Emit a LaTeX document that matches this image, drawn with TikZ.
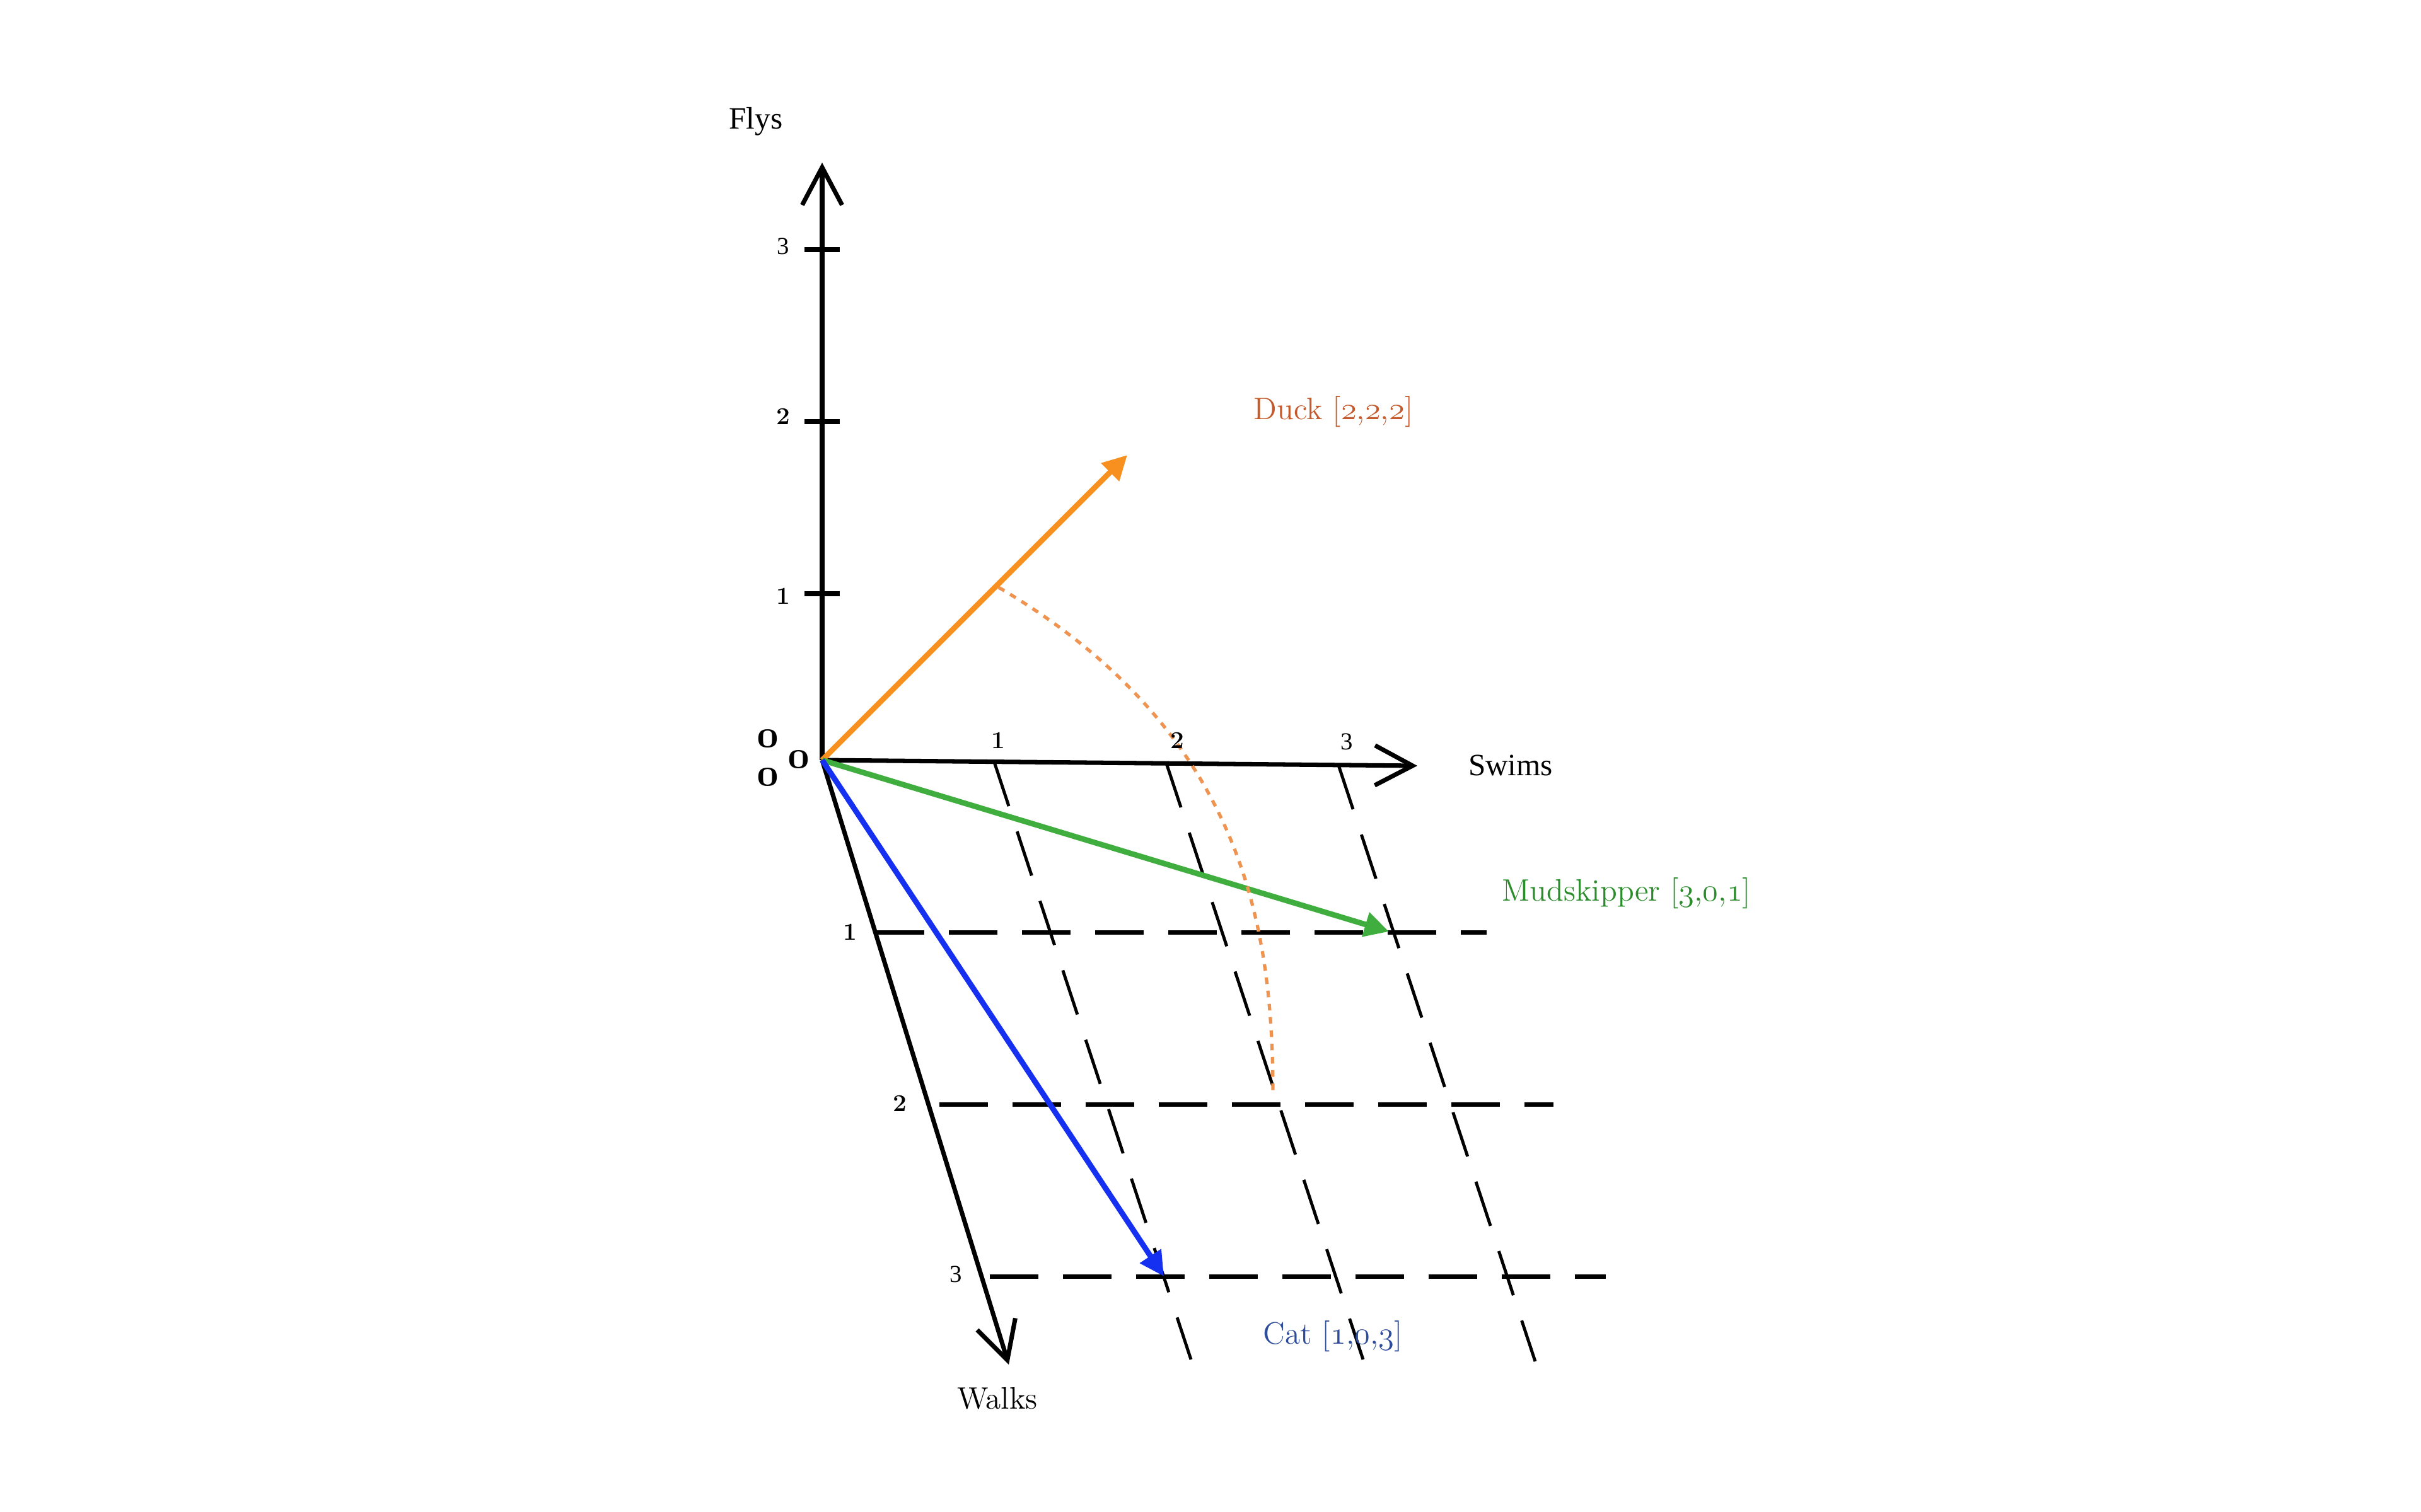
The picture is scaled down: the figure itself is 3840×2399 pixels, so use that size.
\documentclass[tikz,border=0pt]{standalone}
\usepackage{fontspec}
\newfontfamily\tms{Liberation Serif}
\usetikzlibrary{arrows.meta}
\newcommand{\osn}[1]{{\fontencoding{OML}\fontfamily{cmm}\fontseries{m}\fontshape{it}\selectfont #1}}
\newcommand{\osnb}[1]{{\fontencoding{OML}\fontfamily{cmm}\fontseries{b}\fontshape{it}\selectfont #1}}
\definecolor{duckorange}{HTML}{F7901E}
\definecolor{ducklabel}{HTML}{C45A2C}
\definecolor{arcorange}{HTML}{EF9450}
\definecolor{mudgreen}{HTML}{3FAE3F}
\definecolor{mudlabel}{HTML}{2A8C2A}
\definecolor{catblue}{HTML}{1530F0}
\definecolor{catlabel}{HTML}{2D4C9C}
\tikzset{
  axisline/.style={line width=2pt,-{Straight Barb[length=17pt,width=18pt]}},
  tickmark/.style={line width=2pt},
  hgrid/.style={line width=2pt,dash pattern=on 22pt off 11pt},
  sgrid/.style={line width=1.4pt,dash pattern=on 21pt off 12pt},
  vec/.style={line width=2.5pt,-{Triangle[length=11pt,width=11pt]}},
  arcline/.style={arcorange,line width=1.5pt,dash pattern=on 3pt off 3pt},
  lab/.style={inner sep=0pt,font=\fontsize{14}{17}\selectfont},
  axlab/.style={inner sep=0pt,font=\tms\fontsize{14}{17}\selectfont},
  ticklab/.style={inner sep=0pt,font=\tms\fontsize{11}{13}\selectfont},
  tickbold/.style={inner sep=0pt,font=\fontsize{11}{13}\selectfont\bfseries},
  zerolab/.style={inner sep=0pt,font=\fontsize{18}{21}\selectfont}
}
\begin{document}
\begin{tikzpicture}[x=0.1mm,y=-0.1mm]
\useasboundingbox (0,0) rectangle (3840,2399);
% key points
\coordinate (O) at (1304,1206);
\coordinate (Ftip) at (1304,258);
\coordinate (Stip) at (2248,1215);
\coordinate (Wtip) at (1600,2165);
% swims ticks and slanted grid ends
\coordinate (S1) at (1577,1209);
\coordinate (S2) at (1850,1211);
\coordinate (S3) at (2123,1214);
\coordinate (S1e) at (1889,2157);
\coordinate (S2e) at (2162,2157);
\coordinate (S3e) at (2435,2160);
% walks ticks and horizontal grid ends
\coordinate (W1) at (1389,1479);
\coordinate (W2) at (1490,1752);
\coordinate (W3) at (1570,2025);
\coordinate (W1e) at (2358,1479);
\coordinate (W2e) at (2464,1752);
\coordinate (W3e) at (2547,2025);
% vector tips
\coordinate (Duck) at (1788,722);
\coordinate (Mud) at (2203,1478);
\coordinate (Cat) at (1846,2025);
% arc end points
\coordinate (A0) at (1584,932);
\coordinate (A1) at (2019,1736);

% grid
\draw[sgrid] (S1) -- (S1e);
\draw[sgrid] (S2) -- (S2e);
\draw[sgrid] (S3) -- (S3e);
\draw[hgrid] (W1) -- (W1e);
\draw[hgrid] (W2) -- (W2e);
\draw[hgrid] (W3) -- (W3e);

% axes
\draw[axisline] (O) -- (Ftip);
\draw[axisline] (O) -- (Stip);
\draw[axisline] (O) -- (Wtip);
\draw[tickmark] (1276,396) -- (1332,396);
\draw[tickmark] (1276,669) -- (1332,669);
\draw[tickmark] (1276,942) -- (1332,942);

% vectors
\draw[vec,duckorange] (O) -- (Duck);
\draw[vec,mudgreen] (O) -- (Mud);
\draw[vec,catblue] (O) -- (Cat);

% dotted arc
\draw[arcline] (A0) .. controls (1972,1160) and (2019,1471) .. (A1);

% axis labels
\node[axlab] (flys) at (1199,193) {Flys};
\node[axlab] (swims) at (2396,1214) {Swims};
\node[lab] (walks) at (1582,2219) {Walks};

% tick labels
\node[ticklab] (f3) at (1242,391) {3};
\node[tickbold] (f2) at (1242,661) {2};
\node[tickbold] (f1) at (1242,946) {1};
\node[tickbold] (s1) at (1583,1175) {1};
\node[tickbold] (s2) at (1867,1175) {2};
\node[ticklab] (s3) at (2136,1177) {3};
\node[tickbold] (w1) at (1348,1479) {1};
\node[tickbold] (w2) at (1427,1751) {2};
\node[ticklab] (w3) at (1516,2022) {3};

% origin zeros
\node[zerolab] (z1) at (1218,1172) {\osnb{0}};
\node[zerolab] (z2) at (1218,1233) {\osnb{0}};
\node[zerolab] (z3) at (1267,1205) {\osnb{0}};

% vector labels
\node[lab,text=ducklabel] (ducklab) at (2115,653) {Duck [\osn{2},\osn{2},\osn{2}]};
\node[lab,text=mudlabel] (mudlab) at (2580,1417) {Mudskipper [\osn{3},\osn{0},\osn{1}]};
\node[lab,text=catlabel] (catlab) at (2114,2120) {Cat [\osn{1},\osn{0},\osn{3}]};
\end{tikzpicture}
\end{document}
